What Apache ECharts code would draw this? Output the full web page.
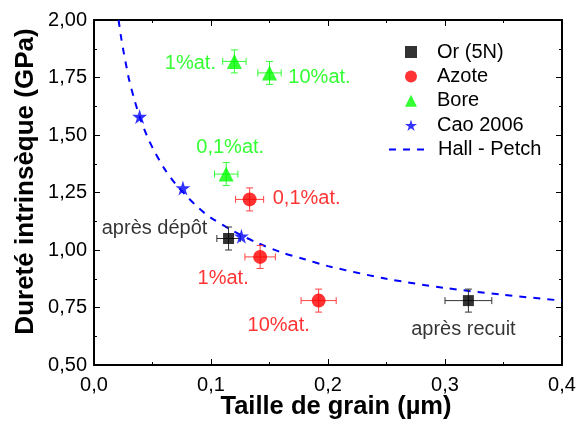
<!DOCTYPE html>
<html>
<head>
<meta charset="utf-8">
<script src="https://cdn.jsdelivr.net/npm/echarts@6/dist/echarts.min.js"></script>
<style>html,body{margin:0;padding:0;background:#fff}#c{width:577px;height:423px}</style>
</head>
<body>
<div id="c"></div>
<script>
// ---- data ----
// each point: [grain size µm, hardness GPa, x error, y error]
const orData    = [[0.115, 1.05, 0.010, 0.05], [0.320, 0.78, 0.020, 0.05]];
const orNotes   = ['après dépôt', 'après recuit'];
const azoteData = [[0.133, 1.22, 0.012, 0.05], [0.142, 0.97, 0.013, 0.05], [0.192, 0.78, 0.015, 0.05]];
const azoteNotes = ['0,1%at.', '1%at.', '10%at.'];
const boreData  = [[0.120, 1.82, 0.010, 0.05], [0.150, 1.77, 0.010, 0.05], [0.113, 1.33, 0.010, 0.05]];
const boreNotes = ['1%at.', '10%at.', '0,1%at.'];
const caoData   = [[0.039, 1.58], [0.076, 1.27], [0.126, 1.06]];
const hpX = [0.021, 0.023, 0.025, 0.028, 0.030, 0.035, 0.040, 0.045, 0.050, 0.060, 0.070, 0.080, 0.090, 0.100, 0.120, 0.140, 0.160, 0.180, 0.200, 0.250, 0.300, 0.350, 0.400];
const hpY = [2.00, 1.93, 1.87, 1.79, 1.74, 1.645, 1.565, 1.50, 1.445, 1.355, 1.285, 1.23, 1.18, 1.14, 1.08, 1.03, 0.99, 0.96, 0.93, 0.875, 0.835, 0.805, 0.78];
const seriesNames = ['Or (5N)', 'Azote', 'Bore', 'Cao 2006', 'Hall - Petch'];
const xTicks = [0, 0.1, 0.2, 0.3, 0.4];
const yTicks = [0.5, 0.75, 1.0, 1.25, 1.5, 1.75, 2.0];

// ---- styling ----
const FONT = 'Liberation Sans, Arial, sans-serif';
const BLACK = '#000000', RED = '#ff0000', GREEN = '#00ff00', BLUE = '#0000ff';
const STAR = 'path://M50,0 L61,35 L98,35 L68,57 L79,91 L50,70 L21,91 L32,57 L2,35 L39,35 Z';

function errorBars(data, color) {
  return {
    type: 'custom',
    data: data,
    z: 2,
    silent: true,
    renderItem: function (params, api) {
      const x = api.value(0), y = api.value(1), ex = api.value(2), ey = api.value(3);
      const l = api.coord([x - ex, y]), r = api.coord([x + ex, y]);
      const t = api.coord([x, y + ey]), b = api.coord([x, y - ey]);
      const cap = 3.5;
      const st = { stroke: color, lineWidth: 1 };
      return {
        type: 'group',
        children: [
          { type: 'line', shape: { x1: l[0], y1: l[1], x2: r[0], y2: r[1] }, style: st },
          { type: 'line', shape: { x1: l[0], y1: l[1] - cap, x2: l[0], y2: l[1] + cap }, style: st },
          { type: 'line', shape: { x1: r[0], y1: r[1] - cap, x2: r[0], y2: r[1] + cap }, style: st },
          { type: 'line', shape: { x1: t[0], y1: t[1], x2: b[0], y2: b[1] }, style: st },
          { type: 'line', shape: { x1: t[0] - cap, y1: t[1], x2: t[0] + cap, y2: t[1] }, style: st },
          { type: 'line', shape: { x1: b[0] - cap, y1: b[1], x2: b[0] + cap, y2: b[1] }, style: st }
        ]
      };
    }
  };
}

function withNotes(data, notes, offsets, color) {
  return data.map(function (d, i) {
    return {
      value: [d[0], d[1]],
      label: {
        show: true, formatter: notes[i], position: 'inside', offset: offsets[i],
        color: color, fontSize: 20, fontFamily: FONT, textBorderWidth: 0
      }
    };
  });
}

const fmtX = v => v.toFixed(1).replace('.', ',');
const fmtY = v => v.toFixed(2).replace('.', ',');

const chart = echarts.init(document.getElementById('c'), null, { renderer: 'canvas' });
const axisCommon = {
  axisLine: { show: true, onZero: false, lineStyle: { color: BLACK, width: 2 } },
  axisTick: { show: true, inside: true, length: 6, lineStyle: { color: BLACK, width: 1 } },
  minorTick: { show: true, splitNumber: 2, length: 3, lineStyle: { color: BLACK, width: 1 } },
  splitLine: { show: false }
};
const legendText = { fontSize: 20, lineHeight: 20, color: BLACK, fontFamily: FONT };

chart.setOption({
  animation: false,
  backgroundColor: '#ffffff',
  grid: { left: 94, right: 15, top: 20, bottom: 58, containLabel: false, outerBoundsMode: 'none' },
  xAxis: [
    Object.assign({}, axisCommon, {
      type: 'value', min: 0, max: 0.4, interval: 0.1, position: 'bottom',
      name: 'Taille de grain (µm)', nameLocation: 'middle', nameGap: 29, nameMoveOverlap: false,
      nameTextStyle: { fontSize: 25.5, fontWeight: 'bold', color: BLACK, fontFamily: FONT, padding: [0, 0, 0, 16] },
      axisLabel: { fontSize: 20, color: BLACK, fontFamily: FONT, margin: 10, formatter: fmtX }
    }),
    Object.assign({}, axisCommon, {
      type: 'value', min: 0, max: 0.4, interval: 0.1, position: 'top',
      axisLabel: { show: false }
    })
  ],
  yAxis: [
    Object.assign({}, axisCommon, {
      type: 'value', min: 0.5, max: 2.0, interval: 0.25, position: 'left',
      name: 'Dureté intrinsèque (GPa)', nameLocation: 'middle', nameGap: 55, nameMoveOverlap: false,
      nameTextStyle: { fontSize: 26, fontWeight: 'bold', color: BLACK, fontFamily: FONT, padding: [0, 0, 0, 22] },
      axisLabel: { fontSize: 20, color: BLACK, fontFamily: FONT, margin: 7, formatter: fmtY }
    }),
    Object.assign({}, axisCommon, {
      type: 'value', min: 0.5, max: 2.0, interval: 0.25, position: 'right',
      axisLabel: { show: false }
    })
  ],
  legend: [
    {
      orient: 'vertical', left: 405, top: 42, padding: 0,
      itemWidth: 12, itemHeight: 12, itemGap: 4.4,
      data: seriesNames.slice(0, 4),
      textStyle: Object.assign({ padding: [0, 0, 0, 15] }, legendText)
    },
    {
      orient: 'vertical', left: 388, top: 42 + 4 * 24.4, padding: 0,
      itemWidth: 39, itemHeight: 12,
      data: [seriesNames[4]],
      itemStyle: { opacity: 0 },
      textStyle: Object.assign({ padding: [0, 0, 0, 5] }, legendText)
    }
  ],
  series: [
    {
      name: seriesNames[4], type: 'line', data: hpX.map((x, i) => [x, hpY[i]]),
      showSymbol: false, symbol: 'none', smooth: 0.3, z: 1,
      lineStyle: { color: BLUE, width: 2, type: [7, 7] }, itemStyle: { color: BLUE }
    },
    errorBars(orData, '#333333'),
    errorBars(azoteData, '#ff4040'),
    errorBars(boreData, '#33ff33'),
    {
      name: seriesNames[0], type: 'scatter', symbol: 'rect', symbolSize: 11, z: 3,
      itemStyle: { color: BLACK },
      data: withNotes(orData, orNotes, [[-74, -10], [-5, 29]], BLACK)
    },
    {
      name: seriesNames[1], type: 'scatter', symbol: 'circle', symbolSize: 14, z: 3,
      itemStyle: { color: RED },
      data: withNotes(azoteData, azoteNotes, [[57, -1], [-37, 22], [-40, 25]], RED)
    },
    {
      name: seriesNames[2], type: 'scatter', symbol: 'triangle', symbolSize: 15, z: 3,
      itemStyle: { color: GREEN },
      data: withNotes(boreData, boreNotes, [[-44, 2], [50, 5], [4, -27]], GREEN)
    },
    {
      name: seriesNames[3], type: 'scatter', z: 3,
      symbol: STAR, symbolSize: 15, itemStyle: { color: BLUE },
      data: caoData
    }
  ]
});
</script>
</body>
</html>
